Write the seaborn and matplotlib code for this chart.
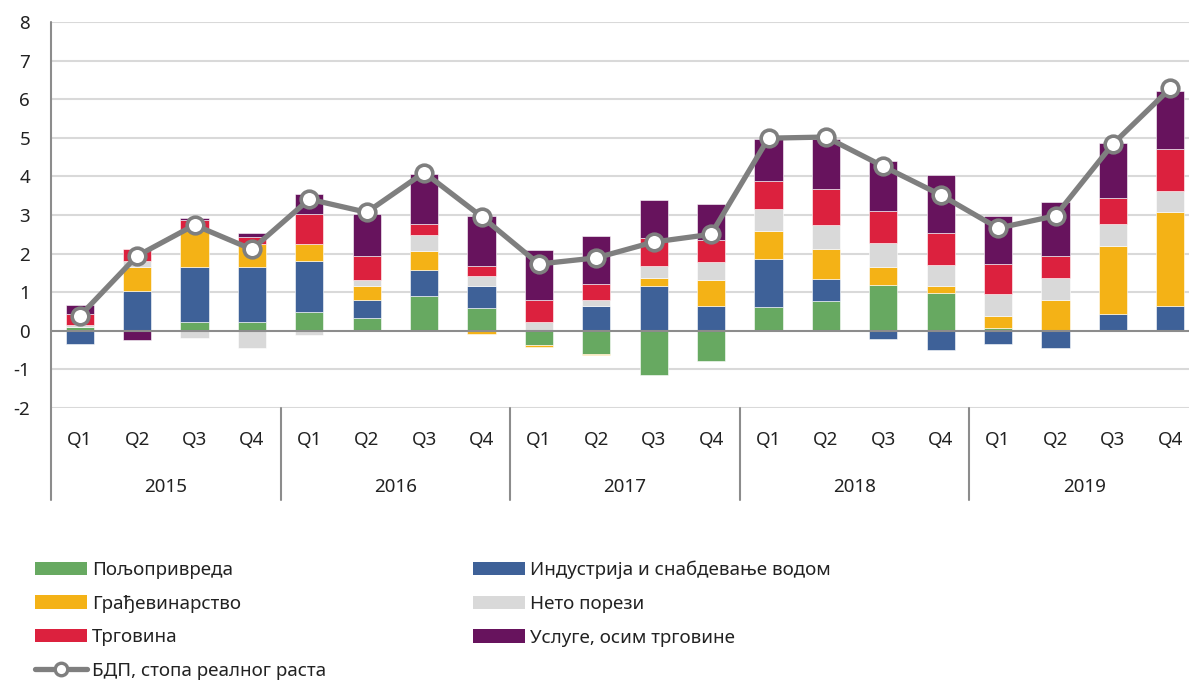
import numpy as np
import matplotlib
matplotlib.use("Agg")
import matplotlib.pyplot as plt
import matplotlib.transforms as mtransforms
from matplotlib.patches import Patch
from matplotlib.lines import Line2D
import seaborn as sns

years = ["2015", "2016", "2017", "2018", "2019"]
quarters = ["Q1", "Q2", "Q3", "Q4"]
periods = [f"{y} {q}" for y in years for q in quarters]

agriculture = [0.10, 0.00, 0.22, 0.22, 0.48, 0.34, 0.90, 0.59, -0.37, -0.59,
               -1.15, -0.79, 0.62, 0.78, 1.18, 0.98, 0.08, 0.02, 0.00, 0.00]
industry = [-0.34, 1.03, 1.44, 1.44, 1.34, 0.45, 0.67, 0.57, 0.00, 0.65,
            1.16, 0.65, 1.24, 0.56, -0.20, -0.50, -0.34, -0.44, 0.43, 0.64]
construction = [0.00, 0.63, 0.94, 0.58, 0.43, 0.37, 0.50, -0.07, -0.06, -0.04,
                0.21, 0.66, 0.73, 0.77, 0.47, 0.17, 0.30, 0.77, 1.76, 2.43]
net_taxes = [0.04, 0.15, -0.19, -0.45, -0.12, 0.15, 0.42, 0.26, 0.23, 0.16,
             0.31, 0.48, 0.57, 0.63, 0.63, 0.56, 0.58, 0.58, 0.57, 0.56]
trade = [0.30, 0.32, 0.27, 0.20, 0.78, 0.62, 0.27, 0.25, 0.58, 0.41,
         0.73, 0.57, 0.73, 0.94, 0.83, 0.82, 0.77, 0.57, 0.68, 1.08]
services = [0.22, -0.24, 0.05, 0.10, 0.52, 1.10, 1.30, 1.30, 1.28, 1.24,
            0.98, 0.92, 1.08, 1.29, 1.29, 1.50, 1.24, 1.39, 1.42, 1.51]
gdp_growth = [0.38, 1.94, 2.74, 2.11, 3.41, 3.07, 4.10, 2.96, 1.73, 1.89,
              2.30, 2.50, 4.99, 5.02, 4.26, 3.52, 2.66, 2.98, 4.84, 6.28]

series = [
    ("Пољопривреда", agriculture, "#67a961"),
    ("Индустрија и снабдевање водом", industry, "#3e6198"),
    ("Грађевинарство", construction, "#f4b216"),
    ("Нето порези", net_taxes, "#d9d9d9"),
    ("Трговина", trade, "#dc213e"),
    ("Услуге, осим трговине", services, "#67135d"),
]
gdp_label = "БДП, стопа реалног раста"

text_color = "#222222"
line_gray = "#7f7f7f"
fs = 13.5

sns.set_theme(style="white")
plt.rcParams["font.family"] = ["Noto Sans", "DejaVu Sans"]
plt.rcParams["font.size"] = fs

fig = plt.figure(figsize=(11.89, 6.8), dpi=100)
ax = fig.add_axes([51 / 1189, 1 - 408 / 680, 1148 / 1189, 386 / 680])

# stacked bars, positives up from zero and negatives down from zero
pos_base = np.zeros(len(periods))
neg_base = np.zeros(len(periods))
for name, values, color in series:
    vals = np.array(values)
    bottom = np.where(vals >= 0, pos_base, neg_base)
    sns.barplot(x=periods, y=vals, bottom=bottom, color=color, saturation=1,
                width=0.49, errorbar=None, edgecolor="white", linewidth=0.4,
                ax=ax, zorder=2)
    pos_base += np.clip(vals, 0, None)
    neg_base += np.clip(vals, None, 0)

sns.pointplot(x=periods, y=gdp_growth, color=line_gray, errorbar=None,
              linewidth=3.8, markersize=12, markerfacecolor="white",
              markeredgecolor=line_gray, markeredgewidth=2.6, ax=ax, zorder=5)

ax.set_xlim(-0.5, len(periods) - 0.5)
ax.set_ylim(-2, 8)
ax.set_yticks(range(-2, 9))
ax.set_yticklabels([str(v) for v in range(-2, 9)], color=text_color, fontsize=fs)
ax.tick_params(axis="y", length=0, pad=15)
ax.set_xticks([])
ax.set_xlabel("")
ax.set_ylabel("")

for v in range(-2, 9):
    if v != 0:
        ax.axhline(v, color="#d9d9d9", linewidth=1.5, zorder=0)
ax.axhline(0, color="#8c8c8c", linewidth=1.5, zorder=3)

for side in ["top", "right", "bottom", "left"]:
    ax.spines[side].set_visible(False)

trans = mtransforms.blended_transform_factory(ax.transData, ax.transAxes)
sep_bottom = -(500 - 408) / 386
ax.plot([0, 0], [1, sep_bottom], transform=ax.transAxes, color="#8c8c8c",
        linewidth=1.5, clip_on=False, zorder=3)
for i in range(1, len(years)):
    x = i * 4 - 0.5
    ax.plot([x, x], [0, sep_bottom], transform=trans, color="#8c8c8c",
            linewidth=1.5, clip_on=False)

q_y = -(440 - 408) / 386
yr_y = -(487 - 408) / 386
for i, p in enumerate(periods):
    ax.text(i, q_y, quarters[i % 4], transform=trans, ha="center", va="center",
            fontsize=fs, color=text_color)
for j, yr in enumerate(years):
    ax.text(j * 4 + 1.5, yr_y, yr, transform=trans, ha="center", va="center",
            fontsize=fs, color=text_color)

patches = {name: Patch(facecolor=color, edgecolor="none") for name, _, color in series}
gdp_handle = Line2D([], [], color=line_gray, linewidth=3.8, marker="o", markersize=9,
                    markerfacecolor="white", markeredgecolor=line_gray,
                    markeredgewidth=2.4)

names = [s[0] for s in series]
col1 = [names[0], names[2], names[4]]
col2 = [names[1], names[3], names[5]]

leg_kw = dict(loc="upper left", frameon=False, fontsize=fs, handlelength=2.75,
              handleheight=0.7, handletextpad=0.3, labelspacing=0.83,
              borderpad=0, borderaxespad=0, labelcolor=text_color)
fig.legend([patches[n] for n in col1] + [gdp_handle], col1 + [gdp_label],
           bbox_to_anchor=(35 / 1189, 1 - 561 / 680), **leg_kw)
fig.legend([patches[n] for n in col2], col2,
           bbox_to_anchor=(473 / 1189, 1 - 561 / 680), **leg_kw)

fig.savefig("out.png", dpi=100)
